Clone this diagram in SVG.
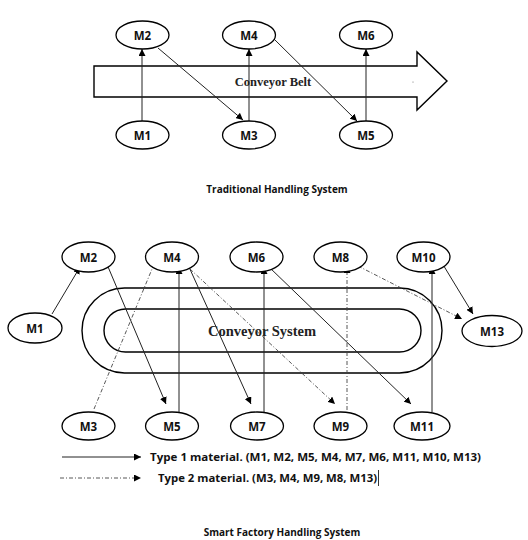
<svg xmlns="http://www.w3.org/2000/svg" width="528" height="540" viewBox="0 0 528 540">
  <style>
    .node ellipse { fill: #fff; stroke: #000; stroke-width: 1.3; }
    .node text { font-family: "Open Sans", "Liberation Sans", sans-serif; font-weight: bold; font-size: 11.5px; fill: #111; text-anchor: middle; dominant-baseline: central; }
    .belt { fill: #fff; stroke: #000; stroke-width: 1.4; }
    .belt-label { font-family: "Liberation Serif", serif; font-weight: bold; fill: #222; text-anchor: middle; dominant-baseline: central; }
    .t1 { stroke: #222; stroke-width: 1; fill: none; marker-end: url(#arrow); }
    .t2 { stroke: #444; stroke-width: 0.9; fill: none; stroke-dasharray: 4 2 1 2; marker-end: url(#arrow); }
    .caption { font-family: "Open Sans", "Liberation Sans", sans-serif; font-weight: bold; font-size: 10px; fill: #111; text-anchor: middle; }
    .legend { font-family: "Open Sans", "Liberation Sans", sans-serif; font-weight: bold; font-size: 11px; fill: #111; }
  </style>
  <defs>
    <marker id="arrow" viewBox="0 0 10 10" refX="10" refY="5" markerWidth="7" markerHeight="7" markerUnits="userSpaceOnUse" orient="auto">
      <path d="M0,0 L10,5 L0,10 z" fill="#000"/>
    </marker>
  </defs>
  <rect width="528" height="540" fill="#fff"/>

  <!-- Traditional handling: conveyor belt arrow -->
  <g id="conveyor-belt">
    <polygon class="belt" points="94,66 417,66 417,52 447,81 417,110 417,97 94,97"/>
    <text class="belt-label" x="273" y="82" font-size="12.5">Conveyor Belt</text>
    <circle cx="413" cy="82" r="0.5" fill="#555"/>
  </g>

  <g id="connectors-traditional">
    <line class="t1" x1="142" y1="121" x2="142" y2="49"/>
    <line class="t1" x1="158" y1="48" x2="243" y2="120"/>
    <line class="t1" x1="249" y1="121" x2="249" y2="49"/>
    <line class="t1" x1="274" y1="39" x2="357" y2="121"/>
    <line class="t1" x1="366" y1="121" x2="366" y2="49"/>
  </g>

  <g id="t-m2" class="node"><ellipse cx="142.5" cy="35" rx="26.5" ry="14"/><text x="142.5" y="35">M2</text></g>
  <g id="t-m4" class="node"><ellipse cx="249" cy="35" rx="26.5" ry="14"/><text x="249" y="35">M4</text></g>
  <g id="t-m6" class="node"><ellipse cx="366" cy="35" rx="26.5" ry="14"/><text x="366" y="35">M6</text></g>
  <g id="t-m1" class="node"><ellipse cx="142.5" cy="135" rx="26.5" ry="14"/><text x="142.5" y="135">M1</text></g>
  <g id="t-m3" class="node"><ellipse cx="249" cy="135" rx="26.5" ry="14"/><text x="249" y="135">M3</text></g>
  <g id="t-m5" class="node"><ellipse cx="366" cy="135" rx="26.5" ry="14"/><text x="366" y="135">M5</text></g>

  <text class="caption" x="277" y="193">Traditional Handling System</text>

  <!-- Smart factory: looped conveyor system -->
  <g id="conveyor-system">
    <rect class="belt" x="82" y="288" width="360" height="85" rx="42.5" ry="42.5"/>
    <rect class="belt" x="104" y="309" width="317" height="43" rx="21.5" ry="21.5"/>
    <text class="belt-label" x="262" y="331" font-size="14.5">Conveyor System</text>
  </g>

  <g id="connectors-smart">
    <!-- type 1 material flow -->
    <line class="t1" x1="52" y1="314" x2="80" y2="267"/>
    <line class="t1" x1="106" y1="262" x2="166" y2="404"/>
    <line class="t1" x1="179" y1="412" x2="179" y2="267"/>
    <line class="t1" x1="189" y1="267" x2="251" y2="404"/>
    <line class="t1" x1="264" y1="412" x2="264" y2="267"/>
    <line class="t1" x1="269" y1="267" x2="411" y2="404"/>
    <line class="t1" x1="432" y1="412" x2="432" y2="267"/>
    <line class="t1" x1="442" y1="263" x2="473" y2="314"/>
    <!-- type 2 material flow -->
    <line class="t2" x1="94" y1="409" x2="157" y2="257"/>
    <line class="t2" x1="190" y1="269" x2="335" y2="404"/>
    <line class="t2" x1="347" y1="410" x2="347" y2="266"/>
    <line class="t2" x1="358" y1="266" x2="462" y2="319"/>
  </g>

  <g id="m2" class="node"><ellipse cx="88.5" cy="257" rx="26.5" ry="15"/><text x="88.5" y="257">M2</text></g>
  <g id="m4" class="node"><ellipse cx="172" cy="257" rx="26.5" ry="15"/><text x="172" y="257">M4</text></g>
  <g id="m6" class="node"><ellipse cx="256.5" cy="257" rx="26.5" ry="15"/><text x="256.5" y="257">M6</text></g>
  <g id="m8" class="node"><ellipse cx="340.5" cy="257" rx="26.5" ry="15"/><text x="340.5" y="257">M8</text></g>
  <g id="m10" class="node"><ellipse cx="423.5" cy="257" rx="26.5" ry="15"/><text x="423.5" y="257">M10</text></g>
  <g id="m1" class="node"><ellipse cx="35" cy="328" rx="27" ry="15"/><text x="35" y="328">M1</text></g>
  <g id="m13" class="node"><ellipse cx="492" cy="331" rx="30" ry="15.5"/><text x="492" y="331">M13</text></g>
  <g id="m3" class="node"><ellipse cx="88.5" cy="426" rx="26.5" ry="14"/><text x="88.5" y="426">M3</text></g>
  <g id="m5" class="node"><ellipse cx="172" cy="426" rx="26.5" ry="14"/><text x="172" y="426">M5</text></g>
  <g id="m7" class="node"><ellipse cx="257" cy="426" rx="26.5" ry="14"/><text x="257" y="426">M7</text></g>
  <g id="m9" class="node"><ellipse cx="340.5" cy="426" rx="26.5" ry="14"/><text x="340.5" y="426">M9</text></g>
  <g id="m11" class="node"><ellipse cx="422" cy="426" rx="28" ry="14"/><text x="422" y="426">M11</text></g>

  <!-- legend -->
  <g id="legend">
    <line class="t1" x1="62" y1="457" x2="141" y2="457"/>
    <text class="legend" x="150" y="461" textLength="331" lengthAdjust="spacingAndGlyphs">Type 1 material. (M1, M2, M5, M4, M7, M6, M11, M10, M13)</text>
    <line class="t2" x1="60" y1="478" x2="141" y2="478"/>
    <text class="legend" x="158" y="482" textLength="219" lengthAdjust="spacingAndGlyphs">Type 2 material. (M3, M4, M9, M8, M13)</text>
    <line x1="378.5" y1="470" x2="378.5" y2="486" stroke="#000" stroke-width="0.8"/>
  </g>

  <text class="caption" x="282" y="536">Smart Factory Handling System</text>
</svg>
